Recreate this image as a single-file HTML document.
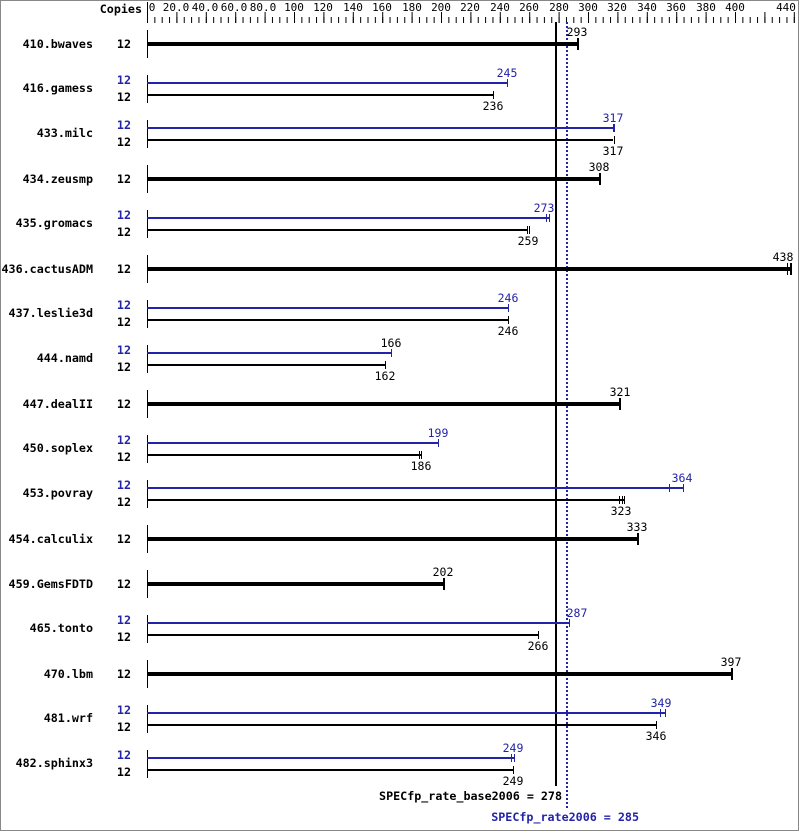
<!DOCTYPE html>
<html><head><meta charset="utf-8"><style>
html,body{margin:0;padding:0;background:#fff}
svg{display:block}
text{font-family:"DejaVu Sans Mono","Liberation Mono",monospace;font-size:11px}
.l{font-weight:bold;text-anchor:end;font-size:11.7px}
.c{font-weight:bold;text-anchor:end;font-size:11.7px}
.v{text-anchor:middle;font-size:11.5px}
.b{fill:#2323a8}
</style></head><body>
<svg width="799" height="831" viewBox="0 0 799 831" xmlns="http://www.w3.org/2000/svg">
<defs>
<pattern id="mn" x="147" y="0" width="7.35" height="30" patternUnits="userSpaceOnUse"><rect x="0" y="17" width="1" height="6" fill="#000"/></pattern>
<pattern id="mj" x="147" y="0" width="29.4" height="30" patternUnits="userSpaceOnUse"><rect x="0" y="12" width="1" height="11" fill="#000"/></pattern>
</defs>
<rect x="0.5" y="0.5" width="798" height="830" fill="#fff" stroke="#888"/>
<rect x="147" y="0" width="648" height="23" fill="url(#mn)"/>
<rect x="147" y="0" width="648" height="23" fill="url(#mj)"/>
<rect x="147" y="2" width="1" height="21" fill="#000"/>
<text x="142" y="13" class="c">Copies</text>
<g class="v" style="font-size:11px">
<text x="152" y="11" style="font-size:11px">0</text><text x="176" y="11" style="font-size:11px">20.0</text><text x="205" y="11" style="font-size:11px">40.0</text><text x="234" y="11" style="font-size:11px">60.0</text><text x="263" y="11" style="font-size:11px">80.0</text>
<text x="294" y="11" style="font-size:11px">100</text><text x="323" y="11" style="font-size:11px">120</text><text x="353" y="11" style="font-size:11px">140</text><text x="382" y="11" style="font-size:11px">160</text><text x="412" y="11" style="font-size:11px">180</text>
<text x="441" y="11" style="font-size:11px">200</text><text x="470" y="11" style="font-size:11px">220</text><text x="500" y="11" style="font-size:11px">240</text><text x="529" y="11" style="font-size:11px">260</text><text x="559" y="11" style="font-size:11px">280</text>
<text x="588" y="11" style="font-size:11px">300</text><text x="617" y="11" style="font-size:11px">320</text><text x="647" y="11" style="font-size:11px">340</text><text x="676" y="11" style="font-size:11px">360</text><text x="706" y="11" style="font-size:11px">380</text>
<text x="735" y="11" style="font-size:11px">400</text><text x="786" y="11" style="font-size:11px">440</text>
</g>

<rect x="555" y="22" width="2" height="764" fill="#000"/>
<line x1="567" y1="22" x2="567" y2="808" stroke="#2323a8" stroke-width="2" stroke-dasharray="2,2"/>
<text x="562" y="800" class="c">SPECfp_rate_base2006 = 278</text>
<text x="639" y="821" class="c b">SPECfp_rate2006 = 285</text>

<g>
<text x="93" y="48" class="l">410.bwaves</text><text x="131" y="48" class="c">12</text>
<rect x="147" y="30" width="1" height="28"/>
<rect x="147" y="42" width="431" height="4"/><rect x="577" y="38" width="2" height="12"/>
<text x="577" y="36" class="v">293</text>

<text x="93" y="92" class="l">416.gamess</text><text x="131" y="84" class="c b">12</text><text x="131" y="101" class="c">12</text>
<rect x="147" y="75" width="1" height="28"/>
<rect x="147" y="82" width="360" height="2" class="b"/><rect x="507" y="79" width="1" height="8" class="b"/>
<rect x="147" y="94" width="347" height="2"/><rect x="493" y="91" width="1" height="8"/>
<text x="507" y="77" class="v b">245</text><text x="493" y="110" class="v">236</text>

<text x="93" y="137" class="l">433.milc</text><text x="131" y="129" class="c b">12</text><text x="131" y="146" class="c">12</text>
<rect x="147" y="120" width="1" height="28"/>
<rect x="147" y="127" width="466" height="2" class="b"/><rect x="613" y="124" width="2" height="8" class="b"/>
<rect x="147" y="139" width="466" height="2"/><rect x="614" y="136" width="1" height="8"/>
<text x="613" y="122" class="v b">317</text><text x="613" y="155" class="v">317</text>

<text x="93" y="183" class="l">434.zeusmp</text><text x="131" y="183" class="c">12</text>
<rect x="147" y="165" width="1" height="28"/>
<rect x="147" y="177" width="453" height="4"/><rect x="599" y="173" width="2" height="12"/>
<text x="599" y="171" class="v">308</text>

<text x="93" y="227" class="l">435.gromacs</text><text x="131" y="219" class="c b">12</text><text x="131" y="236" class="c">12</text>
<rect x="147" y="210" width="1" height="28"/>
<rect x="147" y="217" width="402" height="2" class="b"/><rect x="546" y="214" width="1" height="8" class="b"/><rect x="549" y="214" width="1" height="8" class="b"/>
<rect x="147" y="229" width="381" height="2"/><rect x="527" y="226" width="1" height="8"/><rect x="529" y="226" width="1" height="8"/>
<text x="544" y="212" class="v b">273</text><text x="528" y="245" class="v">259</text>

<text x="93" y="273" class="l">436.cactusADM</text><text x="131" y="273" class="c">12</text>
<rect x="147" y="255" width="1" height="28"/>
<rect x="147" y="267" width="645" height="4"/><rect x="787" y="263" width="1" height="12"/><rect x="790" y="263" width="2" height="12"/>
<text x="783" y="261" class="v">438</text>

<text x="93" y="317" class="l">437.leslie3d</text><text x="131" y="309" class="c b">12</text><text x="131" y="326" class="c">12</text>
<rect x="147" y="300" width="1" height="28"/>
<rect x="147" y="307" width="362" height="2" class="b"/><rect x="508" y="304" width="1" height="8" class="b"/>
<rect x="147" y="319" width="362" height="2"/><rect x="508" y="316" width="1" height="8"/>
<text x="508" y="302" class="v b">246</text><text x="508" y="335" class="v">246</text>

<text x="93" y="362" class="l">444.namd</text><text x="131" y="354" class="c b">12</text><text x="131" y="371" class="c">12</text>
<rect x="147" y="345" width="1" height="28"/>
<rect x="147" y="352" width="245" height="2" class="b"/><rect x="391" y="349" width="1" height="8" class="b"/>
<rect x="147" y="364" width="239" height="2"/><rect x="385" y="361" width="1" height="8"/>
<text x="391" y="347" class="v">166</text><text x="385" y="380" class="v">162</text>

<text x="93" y="408" class="l">447.dealII</text><text x="131" y="408" class="c">12</text>
<rect x="147" y="390" width="1" height="28"/>
<rect x="147" y="402" width="473" height="4"/><rect x="619" y="398" width="2" height="12"/>
<text x="620" y="396" class="v">321</text>

<text x="93" y="452" class="l">450.soplex</text><text x="131" y="444" class="c b">12</text><text x="131" y="461" class="c">12</text>
<rect x="147" y="435" width="1" height="28"/>
<rect x="147" y="442" width="292" height="2" class="b"/><rect x="438" y="439" width="1" height="8" class="b"/>
<rect x="147" y="454" width="274" height="2"/><rect x="419" y="451" width="1" height="8"/><rect x="421" y="451" width="1" height="8"/>
<text x="438" y="437" class="v b">199</text><text x="421" y="470" class="v">186</text>

<text x="93" y="497" class="l">453.povray</text><text x="131" y="489" class="c b">12</text><text x="131" y="506" class="c">12</text>
<rect x="147" y="480" width="1" height="28"/>
<rect x="147" y="487" width="536" height="2" class="b"/><rect x="669" y="484" width="1" height="8" class="b"/><rect x="683" y="484" width="1" height="8" class="b"/>
<rect x="147" y="499" width="477" height="2"/><rect x="619" y="496" width="1" height="8"/><rect x="622" y="496" width="1" height="8"/><rect x="624" y="496" width="1" height="8"/>
<text x="682" y="482" class="v b">364</text><text x="621" y="515" class="v">323</text>

<text x="93" y="543" class="l">454.calculix</text><text x="131" y="543" class="c">12</text>
<rect x="147" y="525" width="1" height="28"/>
<rect x="147" y="537" width="491" height="4"/><rect x="637" y="533" width="2" height="12"/>
<text x="637" y="531" class="v">333</text>

<text x="93" y="588" class="l">459.GemsFDTD</text><text x="131" y="588" class="c">12</text>
<rect x="147" y="570" width="1" height="28"/>
<rect x="147" y="582" width="297" height="4"/><rect x="443" y="578" width="2" height="12"/>
<text x="443" y="576" class="v">202</text>

<text x="93" y="632" class="l">465.tonto</text><text x="131" y="624" class="c b">12</text><text x="131" y="641" class="c">12</text>
<rect x="147" y="615" width="1" height="28"/>
<rect x="147" y="622" width="423" height="2" class="b"/><rect x="569" y="619" width="1" height="8" class="b"/>
<rect x="147" y="634" width="392" height="2"/><rect x="538" y="631" width="1" height="8"/>
<text x="577" y="617" class="v b">287</text><text x="538" y="650" class="v">266</text>

<text x="93" y="678" class="l">470.lbm</text><text x="131" y="678" class="c">12</text>
<rect x="147" y="660" width="1" height="28"/>
<rect x="147" y="672" width="585" height="4"/><rect x="731" y="668" width="2" height="12"/>
<text x="731" y="666" class="v">397</text>

<text x="93" y="722" class="l">481.wrf</text><text x="131" y="714" class="c b">12</text><text x="131" y="731" class="c">12</text>
<rect x="147" y="705" width="1" height="28"/>
<rect x="147" y="712" width="519" height="2" class="b"/><rect x="660" y="709" width="1" height="8" class="b"/><rect x="665" y="709" width="1" height="8" class="b"/>
<rect x="147" y="724" width="510" height="2"/><rect x="656" y="721" width="1" height="8"/>
<text x="661" y="707" class="v b">349</text><text x="656" y="740" class="v">346</text>

<text x="93" y="767" class="l">482.sphinx3</text><text x="131" y="759" class="c b">12</text><text x="131" y="776" class="c">12</text>
<rect x="147" y="750" width="1" height="28"/>
<rect x="147" y="757" width="368" height="2" class="b"/><rect x="511" y="754" width="1" height="8" class="b"/><rect x="514" y="754" width="1" height="8" class="b"/>
<rect x="147" y="769" width="367" height="2"/><rect x="513" y="766" width="1" height="8"/>
<text x="513" y="752" class="v b">249</text><text x="513" y="785" class="v">249</text>
</g>
</svg>
</body></html>
